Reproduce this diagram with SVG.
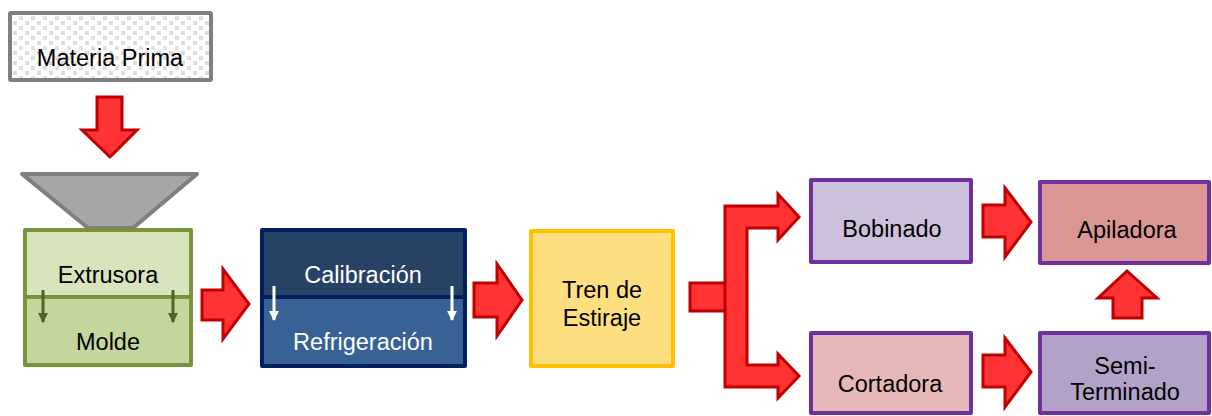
<svg xmlns="http://www.w3.org/2000/svg" width="1212" height="416" viewBox="0 0 1212 416">
<defs>
<pattern id="dots" width="12" height="10" patternUnits="userSpaceOnUse">
<rect width="12" height="10" fill="#ffffff"/>
<rect x="1" y="1" width="4" height="4" fill="#dcdcdc"/>
<rect x="7" y="6" width="4" height="4" fill="#e0e0e0"/>
</pattern>
<marker id="gh" viewBox="0 0 10 10" refX="9" refY="5" markerWidth="10" markerHeight="10" markerUnits="userSpaceOnUse" orient="auto"><path d="M0,0 L10,5 L0,10 Z" fill="#4f6228"/></marker>
<marker id="wh" viewBox="0 0 10 10" refX="9" refY="5" markerWidth="10" markerHeight="10" markerUnits="userSpaceOnUse" orient="auto"><path d="M0,0 L10,5 L0,10 Z" fill="#ffffff"/></marker>
</defs>
<style>
text{font-family:"Liberation Sans",Arial,sans-serif;font-size:23.5px;fill:#000;text-anchor:middle}
.w{fill:#ffffff}
.ra{fill:#ff3333;stroke:#c00000;stroke-width:3;stroke-linejoin:miter}
.box{stroke-width:4;stroke-linejoin:round}
</style>
<g id="materia-prima">
<rect x="10" y="13" width="201" height="67" fill="url(#dots)" stroke="#7f7f7f" stroke-width="4" rx="1"/>
<text x="110" y="66">Materia Prima</text>
</g>
<g id="hopper">
<polygon points="22,174 197,174 133,228 88,228" fill="#a6a6a6" stroke="#7f7f7f" stroke-width="4" stroke-linejoin="round"/>
</g>
<g id="extrusora">
<rect x="25" y="230" width="166" height="67" fill="#d7e4bd"/>
<rect x="25" y="297" width="166" height="68" fill="#c3d69b"/>
<line x1="25" y1="297" x2="191" y2="297" stroke="#77933c" stroke-width="4"/>
<rect x="25" y="230" width="166" height="135" fill="none" stroke="#77933c" class="box"/>
<text x="108" y="283">Extrusora</text>
<text x="108" y="350">Molde</text>
<line x1="43" y1="290" x2="43" y2="322" stroke="#4f6228" stroke-width="3" marker-end="url(#gh)"/>
<line x1="173" y1="290" x2="173" y2="322" stroke="#4f6228" stroke-width="3" marker-end="url(#gh)"/>
</g>
<g id="calibracion">
<rect x="262" y="230" width="203" height="67" fill="#284266"/>
<rect x="262" y="297" width="203" height="69" fill="#386195"/>
<line x1="262" y1="297" x2="465" y2="297" stroke="#002060" stroke-width="4"/>
<rect x="262" y="230" width="203" height="136" fill="none" stroke="#002060" class="box"/>
<text x="363" y="283" class="w">Calibración</text>
<text x="363" y="350" class="w">Refrigeración</text>
<line x1="274" y1="286" x2="274" y2="320" stroke="#ffffff" stroke-width="3" marker-end="url(#wh)"/>
<line x1="452" y1="286" x2="452" y2="320" stroke="#ffffff" stroke-width="3" marker-end="url(#wh)"/>
</g>
<g id="tren">
<rect x="531" y="231" width="142" height="135" fill="#fedf80" stroke="#ffc000" class="box"/>
<text x="602" y="298">Tren de</text>
<text x="602" y="326">Estiraje</text>
</g>
<g id="bobinado">
<rect x="811" y="180" width="160" height="82" fill="#ccc0da" stroke="#7030a0" class="box"/>
<text x="892" y="237">Bobinado</text>
</g>
<g id="apiladora">
<rect x="1040" y="182" width="169" height="81" fill="#d99694" stroke="#7030a0" class="box"/>
<text x="1127" y="238">Apiladora</text>
</g>
<g id="cortadora">
<rect x="811" y="333" width="160" height="80" fill="#e6b9b8" stroke="#7030a0" class="box"/>
<text x="890" y="392">Cortadora</text>
</g>
<g id="semi-terminado">
<rect x="1040" y="333" width="169" height="80" fill="#b3a2c7" stroke="#7030a0" class="box"/>
<text x="1125" y="374">Semi-</text>
<text x="1125" y="400">Terminado</text>
</g>
<g id="connectors">
<polygon class="ra" points="97,97 122,97 122,130 137,130 110,157 82,130 97,130"/>
<polygon class="ra" points="202,290 223,290 223,269 249,304 223,339 223,320 202,320"/>
<polygon class="ra" points="474,283 497,283 497,264 522,300 497,336 497,317 474,317"/>
<polygon class="ra" points="690,283 733,283 743,297 733,311 690,311"/>
<polygon class="ra" points="725,206 778,206 778,194 799,217 778,240 778,228 747,228 747,365 778,365 778,354 799,376 778,398 778,387 725,387"/>
<polygon class="ra" points="983,205 1005,205 1005,188 1031,222 1005,257 1005,237 983,237"/>
<polygon class="ra" points="983,355 1005,355 1005,338 1031,372 1005,407 1005,387 983,387"/>
<polygon class="ra" points="1113,318 1113,298 1098,298 1127,271 1157,298 1142,298 1142,318"/>
</g>
</svg>
